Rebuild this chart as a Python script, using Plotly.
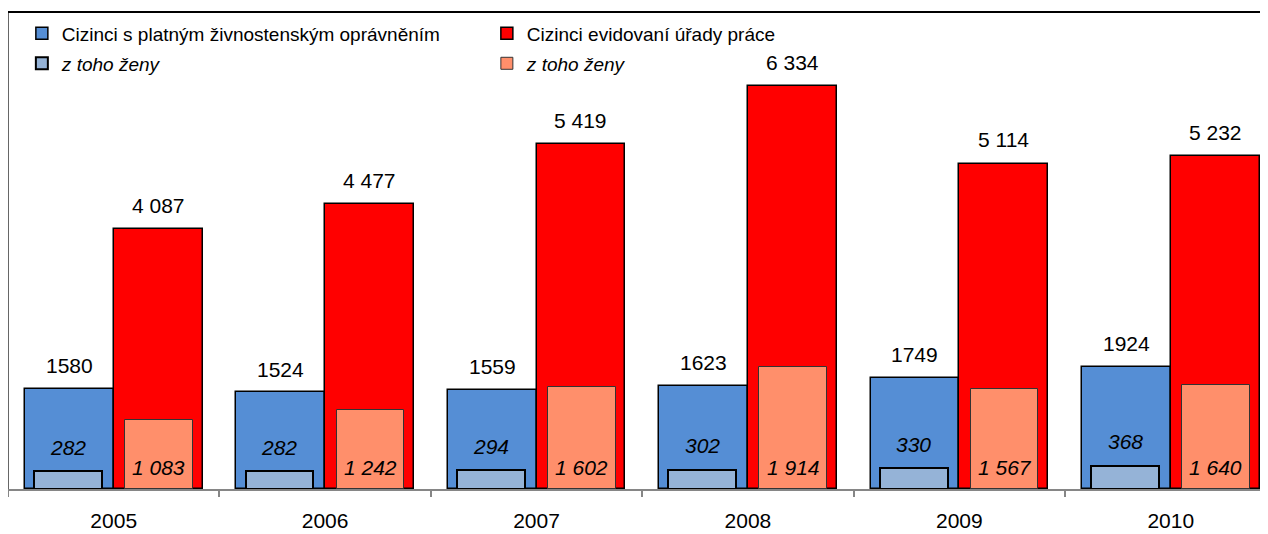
import plotly.graph_objects as go

years = ["2005", "2006", "2007", "2008", "2009", "2010"]
permit_total = [1580, 1524, 1559, 1623, 1749, 1924]
office_total = [4087, 4477, 5419, 6334, 5114, 5232]
permit_women = [282, 282, 294, 302, 330, 368]
office_women = [1083, 1242, 1602, 1914, 1567, 1640]

names = ["Cizinci s platným živnostenským oprávněním",
         "Cizinci evidovaní úřady práce",
         "<i>z toho ženy</i>",
         "<i>z toho ženy</i>"]

FONT = "Liberation Sans, Arial, sans-serif"
C_BLUE = "#558ED5"
C_RED = "#FF0000"
C_LBLUE = "#95B3D7"
C_SALMON = "#FF8F6B"

W_BIG = 0.42
W_SMALL = 0.32
OFF_BLUE = -0.42
OFF_RED = 0.0
OFF_LBLUE = -0.376
OFF_SALMON = 0.054

fig = go.Figure()
fig.add_trace(go.Bar(x=years, y=permit_total, name=names[0], width=W_BIG, offset=OFF_BLUE,
                     marker=dict(color=C_BLUE, line=dict(color="black", width=1.5)),
                     legend="legend"))
fig.add_trace(go.Bar(x=years, y=office_total, name=names[1], width=W_BIG, offset=OFF_RED,
                     marker=dict(color=C_RED, line=dict(color="black", width=1.5)),
                     legend="legend"))
fig.add_trace(go.Bar(x=years, y=permit_women, name=names[2], width=W_SMALL, offset=OFF_LBLUE,
                     marker=dict(color=C_LBLUE, line=dict(color="black", width=2)),
                     legend="legend2"))
fig.add_trace(go.Bar(x=years, y=office_women, name=names[3], width=W_SMALL, offset=OFF_SALMON,
                     marker=dict(color=C_SALMON, line=dict(color="#333333", width=1)),
                     legend="legend2"))


def fmt(v):
    return f"{v:,}".replace(",", " ")


ann = []
for i in range(len(years)):
    ann.append(dict(x=i + OFF_BLUE + W_BIG / 2, y=permit_total[i], text=str(permit_total[i]),
                    yshift=23))
    ann.append(dict(x=i + OFF_RED + W_BIG / 2, y=office_total[i], text=fmt(office_total[i]),
                    yshift=24))
    ann.append(dict(x=i + OFF_LBLUE + W_SMALL / 2, y=permit_women[i],
                    text="<i>" + fmt(permit_women[i]) + "</i>", yshift=24))
    ann.append(dict(x=i + OFF_SALMON + W_SMALL / 2, y=0,
                    text="<i>" + fmt(office_women[i]) + "</i>", yshift=22))
for a in ann:
    a.update(xref="x", yref="y", showarrow=False, yanchor="middle", xanchor="center",
             font=dict(family=FONT, size=21, color="black"))

fig.update_layout(
    width=1260, height=526,
    margin=dict(l=0, r=0, t=4, b=45),
    paper_bgcolor="white", plot_bgcolor="white",
    barmode="overlay",
    bargap=0,
    showlegend=True,
    legend=dict(orientation="h", x=0.011, y=0.995, xanchor="left", yanchor="top",
                entrywidth=420, font=dict(family=FONT, size=19, color="black"),
                bgcolor="rgba(0,0,0,0)", traceorder="normal"),
    legend2=dict(orientation="h", x=0.011, y=0.932, xanchor="left", yanchor="top",
                 entrywidth=420, font=dict(family=FONT, size=19, color="black"),
                 bgcolor="rgba(0,0,0,0)", traceorder="normal"),
    xaxis=dict(type="category", range=[-0.5, 5.46], tickson="boundaries",
               ticks="outside", ticklen=6, tickcolor="#868686", tickwidth=2,
               showline=True, linecolor="#868686", linewidth=2,
               showgrid=False, zeroline=False, ticklabelstandoff=12,
               tickfont=dict(family=FONT, size=21, color="black")),
    yaxis=dict(range=[0, 7500], visible=False, showgrid=False, zeroline=False),
    annotations=ann,
    shapes=[
        dict(type="line", xref="paper", yref="paper", x0=0, x1=0, y0=0, y1=1,
             line=dict(color="#333333", width=1.5)),
        dict(type="line", xref="paper", yref="paper", x0=0, x1=1, y0=1, y1=1,
             line=dict(color="black", width=2)),
    ],
)

fig.write_html("out.html")
